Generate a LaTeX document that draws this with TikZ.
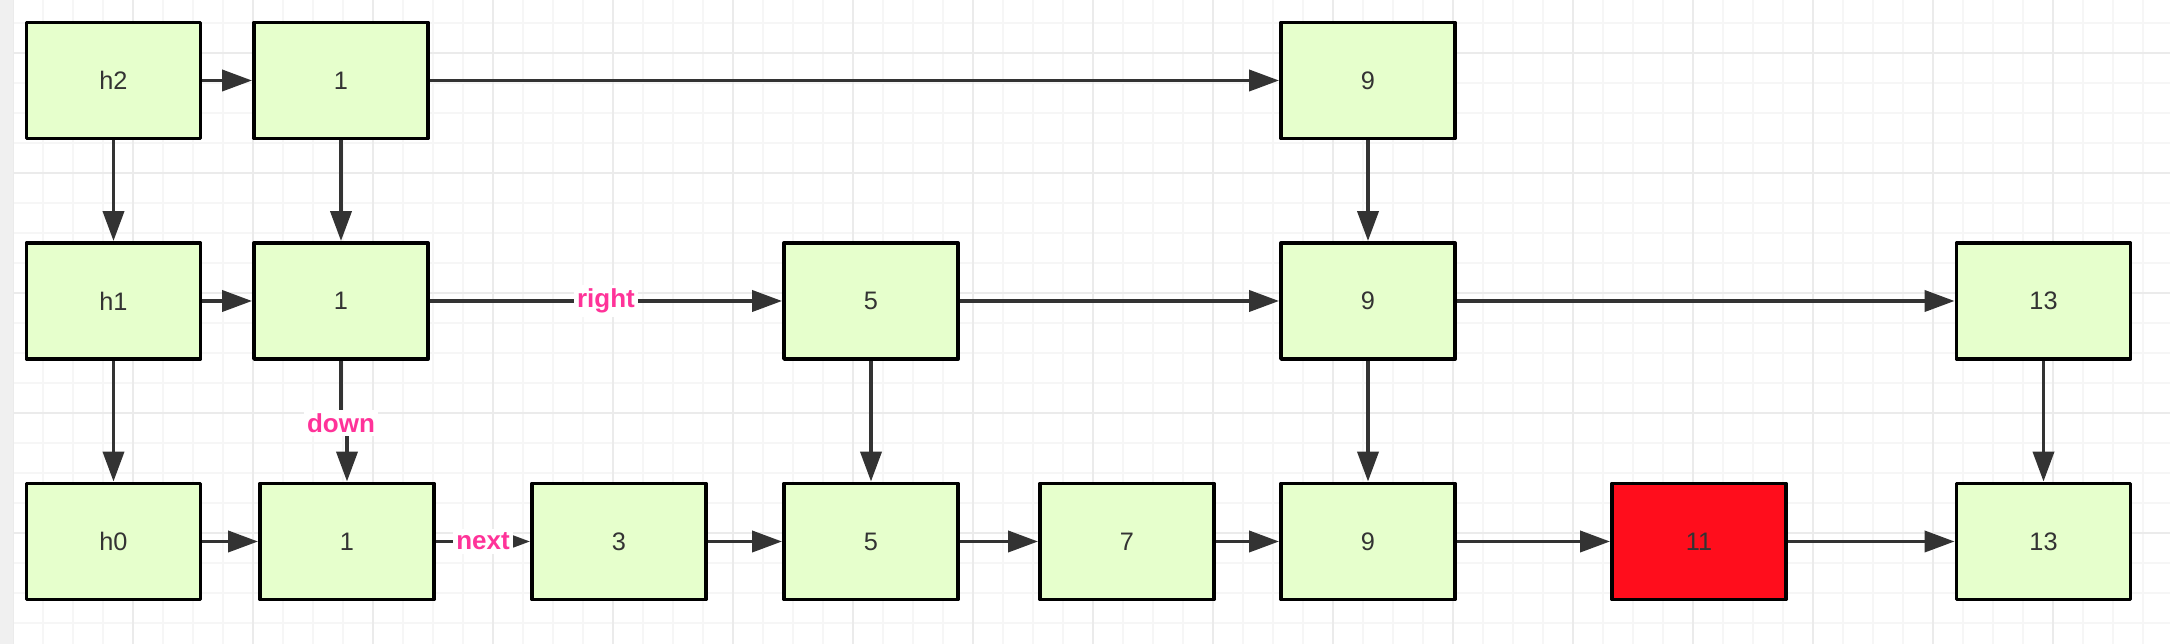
\documentclass[tikz,border=0pt]{standalone}
\usepackage{fontspec}
\setmainfont{Liberation Sans}
\usetikzlibrary{arrows.meta}
\definecolor{cellfill}{HTML}{E6FFCC}
\definecolor{hitred}{HTML}{FF0D1C}
\definecolor{linkgray}{HTML}{333333}
\definecolor{tagpink}{HTML}{FF3399}
\tikzset{
  cell/.style={draw=black, line width=1.1pt, fill=cellfill, minimum width=1.74cm, minimum height=1.16cm, text=linkgray, inner sep=0pt},
  link/.style={->, draw=linkgray, line width=1.1pt},
  tag/.style={fill=white, text=tagpink, font=\fontsize{7.4}{9}\selectfont\bfseries, inner sep=1pt}
}
\begin{document}
\begin{tikzpicture}[>={Triangle[length=3mm,width=2.1mm]}, font=\fontsize{7.2}{9}\selectfont, line join=round]
  \def\W{21.7} \def\H{6.44}
  \def\yt{5.635} \def\ym{3.43} \def\yb{1.025} % rows
  \useasboundingbox (0,0) rectangle (\W,\H);
  \fill[white] (0,0) rectangle (\W,\H);
  \fill[gray!12] (0,0) rectangle (0.13,\H);
  \begin{scope}[shift={(0.13,0.21)}]
    \clip (0,-0.21) rectangle (\W-0.13,\H-0.21);
    \draw[gray!7, line width=0.5pt, step=0.3] (0,-0.3) grid (\W,\H);
  \end{scope}
  \begin{scope}[shift={(0.13,-0.09)}]
    \clip (0,0.09) rectangle (\W-0.13,\H+0.09);
    \draw[gray!16, line width=0.5pt, step=1.2] (0,0) grid (\W,\H+0.2);
  \end{scope}
  % level 2
  \node[cell] (h2) at (1.135,\yt) {h2};
  \node[cell] (t1) at (3.41,\yt) {1};
  \node[cell] (t9) at (13.68,\yt) {9};
  % level 1
  \node[cell] (h1) at (1.135,\ym) {h1};
  \node[cell] (m1) at (3.41,\ym) {1};
  \node[cell] (m5) at (8.71,\ym) {5};
  \node[cell] (m9) at (13.68,\ym) {9};
  \node[cell] (m13) at (20.435,\ym) {13};
  % level 0
  \node[cell] (h0) at (1.135,\yb) {h0};
  \node[cell] (b1) at (3.47,\yb) {1};
  \node[cell] (b3) at (6.19,\yb) {3};
  \node[cell] (b5) at (8.71,\yb) {5};
  \node[cell] (b7) at (11.27,\yb) {7};
  \node[cell] (b9) at (13.68,\yb) {9};
  \node[cell, fill=hitred] (b11) at (16.99,\yb) {11};
  \node[cell] (b13) at (20.435,\yb) {13};
  \foreach \a/\b in {h2/t1,t1/t9,h1/m1,m5/m9,m9/m13,h0/b1,b3/b5,b5/b7,b7/b9,b9/b11,b11/b13}
    \draw[link] (\a) -- (\b);
  \foreach \a/\b in {h2/h1,t1/m1,t9/m9,h1/h0,m5/b5,m9/b9,m13/b13}
    \draw[link] (\a) -- (\b);
  \draw[link] (m1) -- node[tag] (rlbl) {right} (m5);
  \draw[link] (b1) -- node[tag] (nlbl) {next} (b3);
  \draw[link] (m1.south) -- ++(0,-0.62) -| node[tag, pos=0] (dlbl) {down} (b1.north);
\end{tikzpicture}
\end{document}
